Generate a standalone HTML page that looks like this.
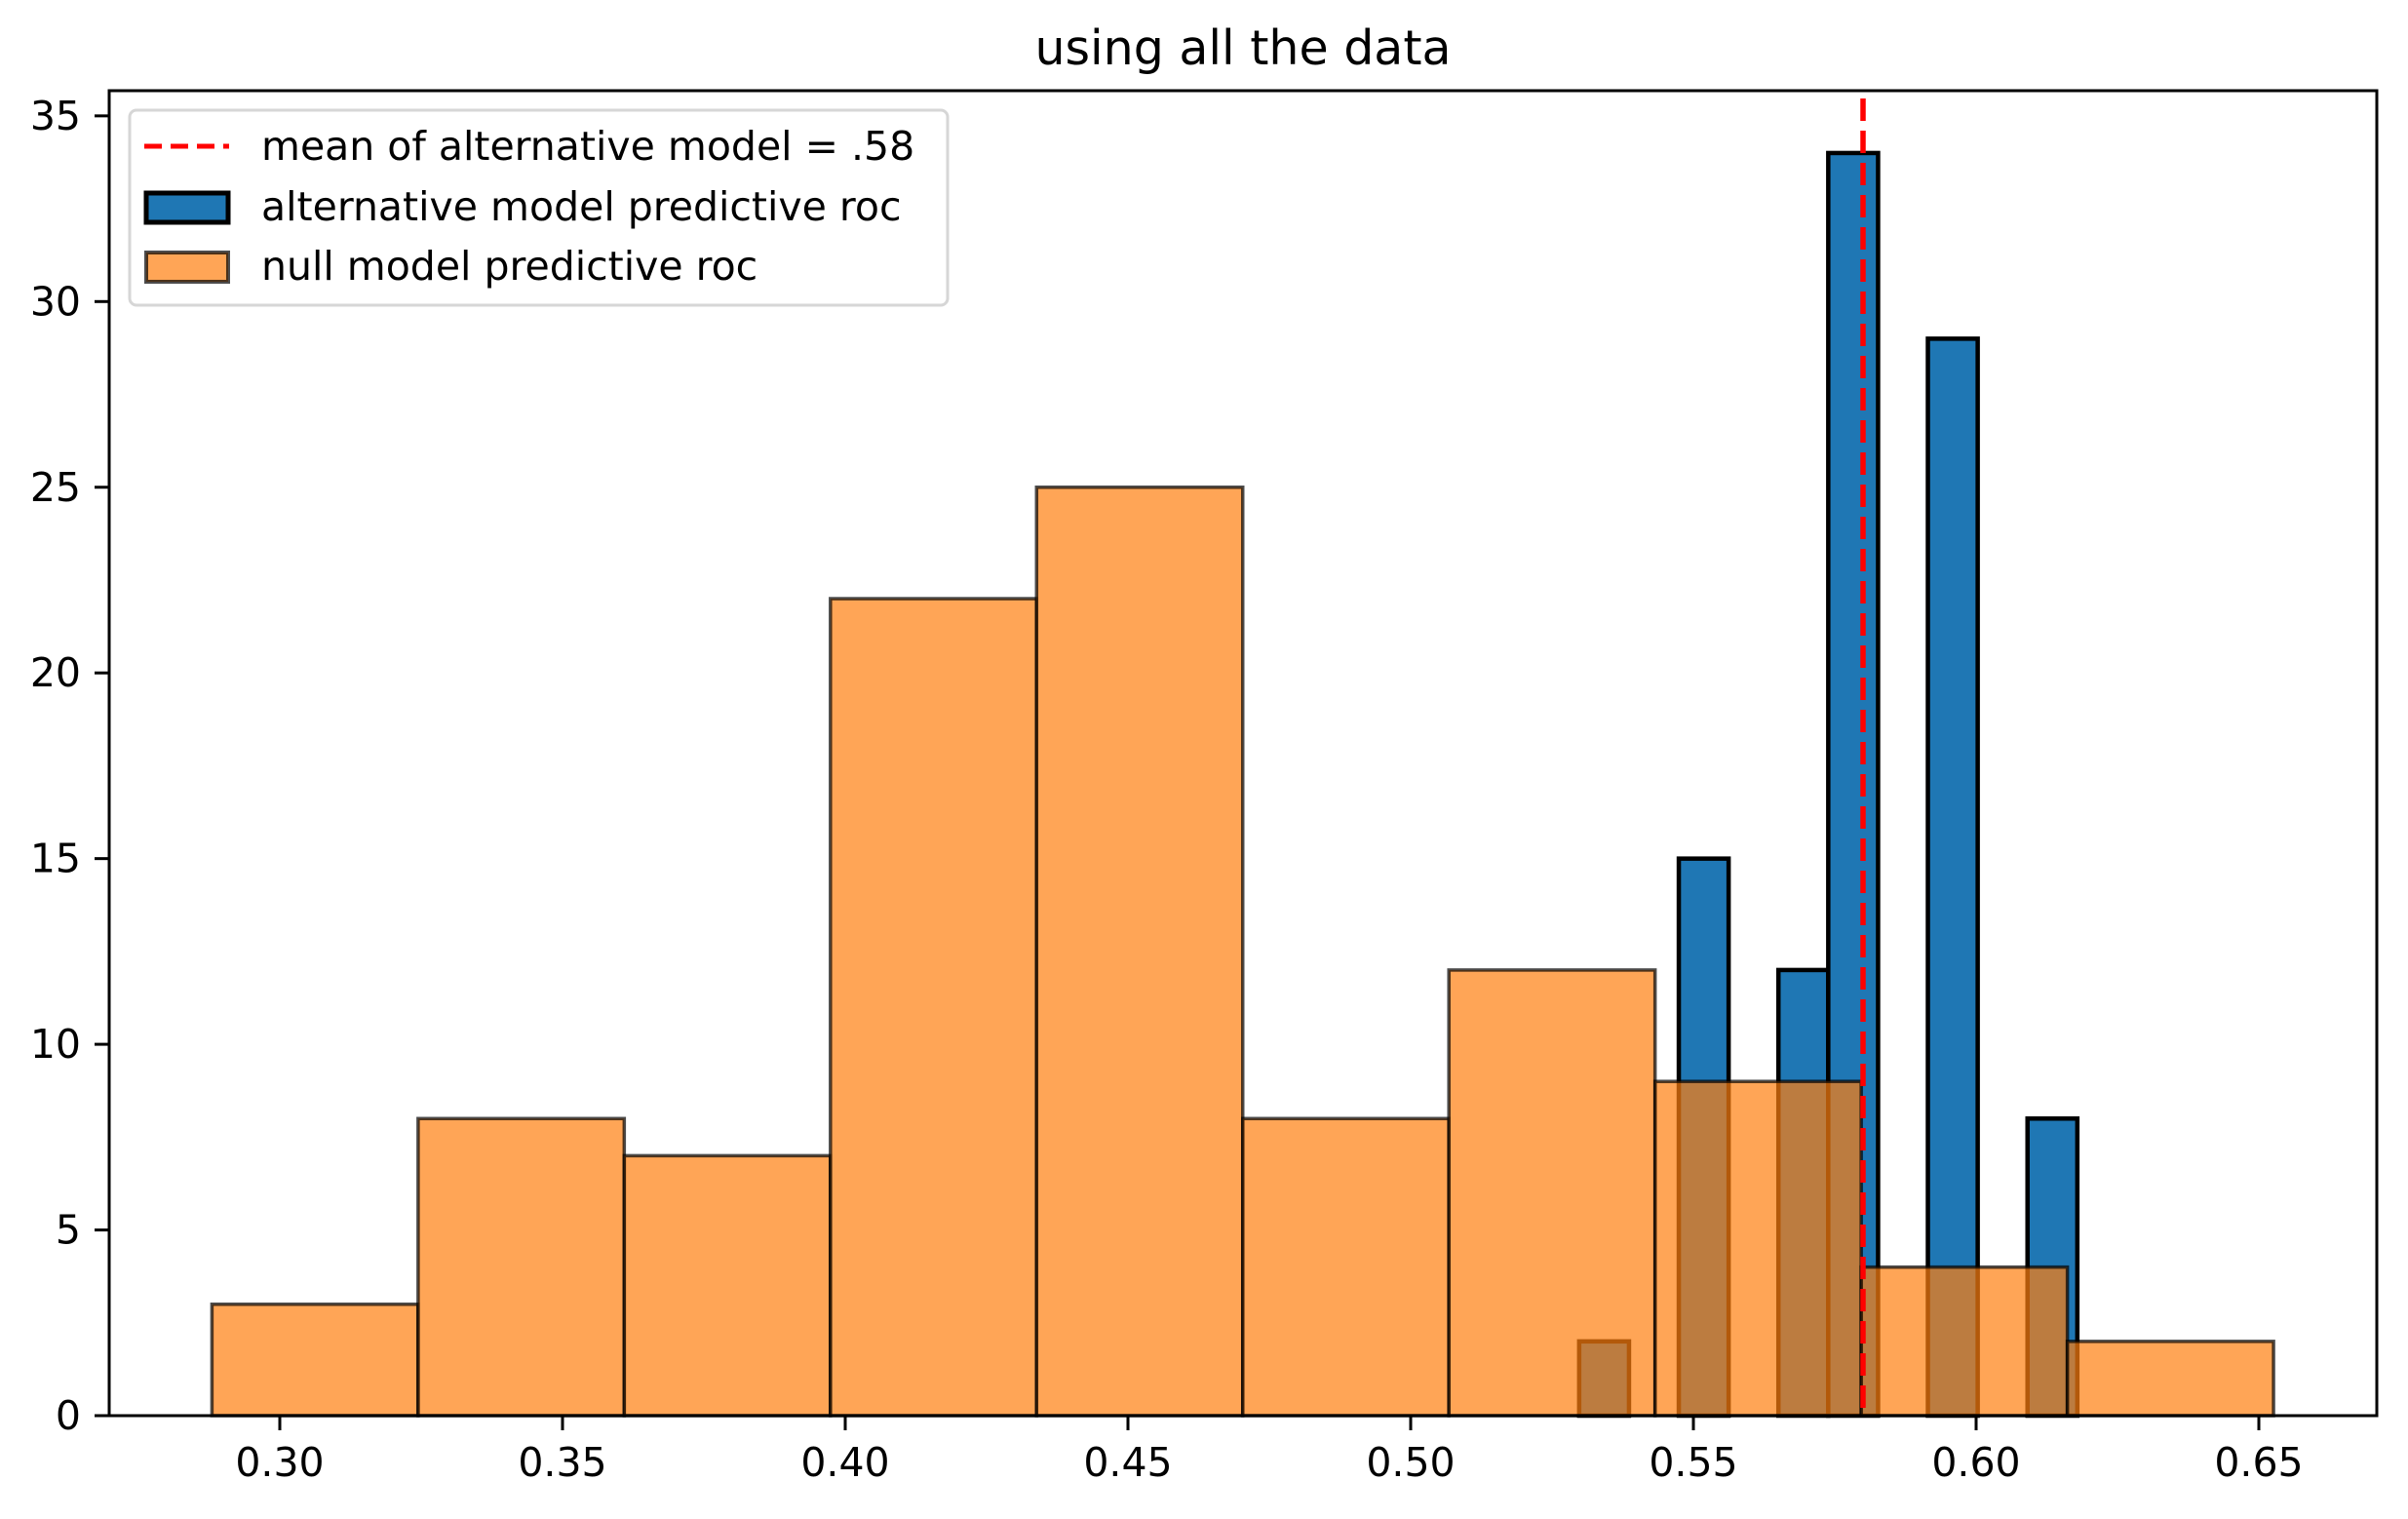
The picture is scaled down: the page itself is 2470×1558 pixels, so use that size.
<!DOCTYPE html>
<html><head><meta charset="utf-8"><style>
html,body{margin:0;padding:0;background:#fff;}
svg text{font-family:"DejaVu Sans","Liberation Sans",sans-serif;fill:#000;}
</style></head><body>
<svg id="chart" width="2470" height="1553" viewBox="0 0 2470 1553" xmlns="http://www.w3.org/2000/svg">
<rect width="2470" height="1553" fill="#fff"/>
<text x="1275" y="66" font-size="49" text-anchor="middle">using all the data</text>
<g id="plot"></g>
<rect x="112" y="93" width="2326" height="1359" fill="none" stroke="#000" stroke-width="3"/>
<g id="xticks"></g><g id="yticks"></g>
<g>
<rect x="133" y="113" width="839" height="200" rx="7" fill="#fff" fill-opacity="0.8" stroke="#d6d6d6" stroke-width="3"/>
<line x1="148" y1="150" x2="235" y2="150" stroke="#ff0000" stroke-width="5" stroke-dasharray="18,9"/>
<text x="268" y="164" font-size="41">mean of alternative model = .58</text>
<rect x="150" y="198" width="84" height="30" fill="#1f77b4" stroke="#000" stroke-width="5"/>
<text x="268" y="226" font-size="41">alternative model predictive roc</text>
<rect x="150" y="259" width="84" height="30" fill="#ff7f0e" fill-opacity="0.7" stroke="#000" stroke-opacity="0.7" stroke-width="4"/>
<text x="268" y="287" font-size="41">null model predictive roc</text>
</g>
</svg>
<script>
const altStart = 0.5298, altWidth = 0.00881;
const altCounts = [2, 0, 15, 0, 12, 34, 0, 29, 0, 8];
const nullStart = 0.288, nullWidth = 0.03646;
const nullCounts = [3, 8, 7, 22, 25, 8, 12, 9, 4, 2];
const meanValue = 0.58;
const xTickLabels = ["0.30","0.35","0.40","0.45","0.50","0.55","0.60","0.65"];
const yTickLabels = ["0","5","10","15","20","25","30","35"];

const NS = "http://www.w3.org/2000/svg";
function X(v){ return 287 + (v - 0.30) * 5800; }
function Y(v){ return 1452 - v * 38.09; }
function mk(tag, attrs, parent){
  const e = document.createElementNS(NS, tag);
  for (const k in attrs) e.setAttribute(k, attrs[k]);
  parent.appendChild(e); return e;
}
const plot = document.getElementById('plot');
altCounts.forEach((c, i) => {
  if (!c) return;
  const x0 = X(altStart + i*altWidth), x1 = X(altStart + (i+1)*altWidth);
  const r = mk('rect', {x:x0, y:Y(c), width:x1-x0, height:Y(0)-Y(c), fill:'#1f77b4', stroke:'#000', 'stroke-width':4.5}, plot);
  
  
});
nullCounts.forEach((c, i) => {
  if (!c) return;
  const x0 = X(nullStart + i*nullWidth), x1 = X(nullStart + (i+1)*nullWidth);
  const r = mk('rect', {x:x0, y:Y(c), width:x1-x0, height:Y(0)-Y(c), fill:'#ff7f0e', 'fill-opacity':0.7, stroke:'#000', 'stroke-opacity':0.7, 'stroke-width':3.5}, plot);
  
  
});
const ml = mk('line', {x1:X(meanValue), x2:X(meanValue), y1:101, y2:1452, stroke:'#ff0000', 'stroke-width':5.5, 'stroke-dasharray':'23,10'}, plot);



const xt = document.getElementById('xticks');
xTickLabels.forEach(l => {
  const x = X(parseFloat(l));
  const t = mk('line', {x1:x, x2:x, y1:1452, y2:1467, stroke:'#000', 'stroke-width':3}, xt);
  
  
  const tx = mk('text', {x:x, y:1514, 'font-size':41, 'text-anchor':'middle'}, xt);
  tx.textContent = l;
  
  
});
const yt = document.getElementById('yticks');
yTickLabels.forEach(l => {
  const y = Y(parseFloat(l));
  const t = mk('line', {x1:97, x2:112, y1:y, y2:y, stroke:'#000', 'stroke-width':3}, yt);
  
  
  const tx = mk('text', {x:83, y:y+14, 'font-size':41, 'text-anchor':'end'}, yt);
  tx.textContent = l;
  
  
});
</script>
</body></html>
